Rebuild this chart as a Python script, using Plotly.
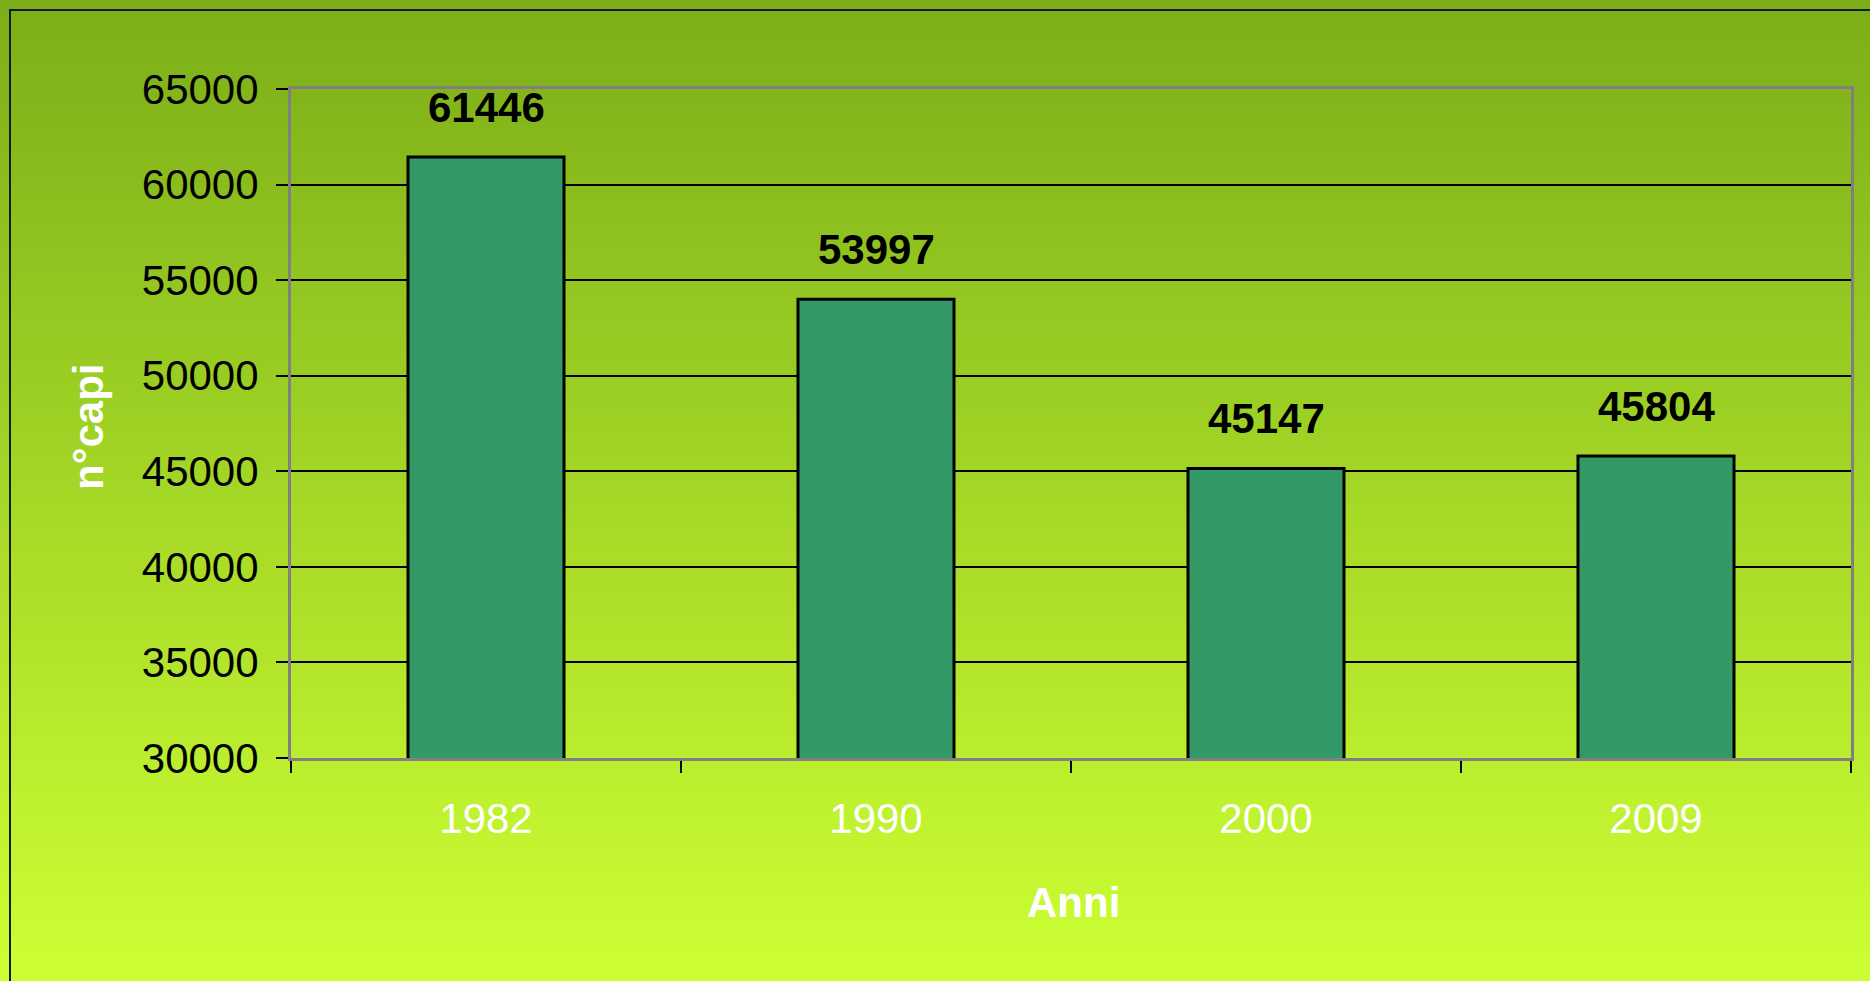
import plotly.graph_objects as go

# Data
anni = ["1982", "1990", "2000", "2009"]
capi = [61446, 53997, 45147, 45804]
y_ticks = [30000, 35000, 40000, 45000, 50000, 55000, 60000, 65000]

W, H = 1870, 981
L, R, T, B = 291, 19, 89, 223
pw, ph = W - L - R, H - T - B

def px_x(x):
    return (x - L) / pw

def px_y(y):
    return (H - B - y) / ph

fig = go.Figure()
fig.add_trace(go.Bar(
    x=anni, y=capi,
    marker=dict(color="#339966", line=dict(color="black", width=3)),
    hoverinfo="x+y",
))

# Background gradient (top dark olive -> bottom bright lime)
top = (124, 174, 25)
bot = (204, 255, 51)
n = 80
shapes = []
for i in range(n):
    t = i / (n - 1)
    c = tuple(round(top[k] + (bot[k] - top[k]) * t) for k in range(3))
    y0 = H * i / n
    y1 = H * (i + 1) / n + 1
    shapes.append(dict(type="rect", xref="paper", yref="paper",
                       x0=px_x(0), x1=px_x(W), y0=px_y(y1), y1=px_y(y0),
                       fillcolor="rgb(%d,%d,%d)" % c, line=dict(width=0), layer="below"))
# outer frame
shapes.append(dict(type="rect", xref="paper", yref="paper",
                   x0=px_x(10), x1=px_x(W + 20), y0=px_y(H + 20), y1=px_y(10),
                   fillcolor="rgba(0,0,0,0)", line=dict(color="#1a1a1a", width=2), layer="below"))

annotations = []
for i, v in enumerate(capi):
    annotations.append(dict(x=i, y=v, xref="x", yref="y", text=str(v), showarrow=False,
                            yanchor="bottom", yshift=24,
                            font=dict(family="Liberation Sans, Arial", size=42,
                                      color="black", weight="bold")))
annotations.append(dict(xref="paper", yref="paper", x=px_x(1073), y=px_y(902),
                        text="Anni", showarrow=False, xanchor="center", yanchor="middle",
                        font=dict(family="Liberation Sans, Arial", size=42, color="white", weight="bold")))
annotations.append(dict(xref="paper", yref="paper", x=px_x(88), y=px_y(426),
                        text="n°capi", showarrow=False, textangle=-90, xanchor="center", yanchor="middle",
                        font=dict(family="Liberation Sans, Arial", size=42, color="white", weight="bold")))

fig.update_layout(
    width=W, height=H,
    margin=dict(l=L, r=R, t=T, b=B, pad=0),
    paper_bgcolor="#b0dd2a",
    plot_bgcolor="rgba(0,0,0,0)",
    bargap=0.6,
    showlegend=False,
    shapes=shapes,
    annotations=annotations,
    font=dict(family="Liberation Sans, Arial", size=42, color="black"),
)
fig.update_xaxes(
    type="category",
    categoryorder="array", categoryarray=anni,
    range=[-0.5, len(anni) - 0.5],
    showline=True, linecolor="#808080", linewidth=3, mirror=True,
    ticks="outside", ticklen=12, tickwidth=1.5, tickcolor="black", tickson="boundaries",
    tickangle=0,
    tickfont=dict(color="white", size=42, family="Liberation Sans, Arial"),
    ticklabelstandoff=22,
    showgrid=False, zeroline=False,
)
fig.update_yaxes(
    range=[30000, 65000],
    tickvals=y_ticks, ticktext=[str(v) for v in y_ticks],
    showline=True, linecolor="#808080", linewidth=3, mirror=True,
    ticks="outside", ticklen=12, tickwidth=1.5, tickcolor="black",
    tickfont=dict(color="black", size=42, family="Liberation Sans, Arial"),
    ticklabelstandoff=9,
    showgrid=True, gridcolor="black", gridwidth=1.5, zeroline=False,
)

fig.write_html("out.html", config={"displayModeBar": False},
               post_script="document.body.style.margin='0';")
